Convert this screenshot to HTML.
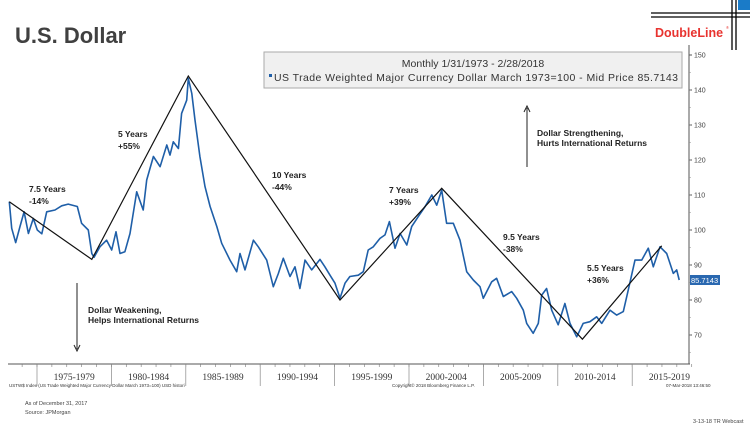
<!DOCTYPE html>
<html><head><meta charset="utf-8"><style>
body{margin:0;background:#fff;}
svg{display:block;font-family:"Liberation Sans",sans-serif;}
.ann{font-size:8.5px;font-weight:bold;fill:#222;}
.tk{font-size:7px;fill:#444;}
</style></head><body>
<svg id="chart" width="750" height="426" viewBox="0 0 750 426" xmlns="http://www.w3.org/2000/svg">
<text x="15" y="43" font-size="22" font-weight="bold" fill="#404040">U.S. Dollar</text>
<g>
<rect x="738" y="0" width="12" height="10" fill="#1a7bc8"/>
<line x1="651" y1="13" x2="750" y2="13" stroke="#000" stroke-width="1.3"/>
<line x1="651" y1="17" x2="750" y2="17" stroke="#000" stroke-width="1.3"/>
<line x1="732" y1="0" x2="732" y2="50" stroke="#000" stroke-width="1.3"/>
<line x1="736" y1="0" x2="736" y2="50" stroke="#000" stroke-width="1.3"/>
<text x="655" y="37" font-size="12.5" font-weight="bold" fill="#e8332f">DoubleLine</text>
<text x="726" y="29" font-size="4" fill="#e8332f">®</text>
</g>
<g>
<rect x="264" y="52" width="418" height="36" fill="#f0f0f0" stroke="#aaa"/>
<text x="473" y="67" font-size="10.5" fill="#333" text-anchor="middle">Monthly 1/31/1973 - 2/28/2018</text>
<rect x="269" y="74" width="3" height="3" fill="#1f5fa8"/>
<text x="274" y="81" font-size="10.5" fill="#333" textLength="404">US Trade Weighted Major Currency Dollar March 1973=100 - Mid Price 85.7143</text>
</g>
<g id="axes"></g>
<g id="marks"></g>
<g>
<text class="ann" x="29" y="192">7.5 Years</text><text class="ann" x="29" y="204">-14%</text>
<text class="ann" x="118" y="137">5 Years</text><text class="ann" x="118" y="149">+55%</text>
<text class="ann" x="272" y="178">10 Years</text><text class="ann" x="272" y="190">-44%</text>
<text class="ann" x="389" y="193">7 Years</text><text class="ann" x="389" y="205">+39%</text>
<text class="ann" x="503" y="240">9.5 Years</text><text class="ann" x="503" y="252">-38%</text>
<text class="ann" x="587" y="271">5.5 Years</text><text class="ann" x="587" y="283">+36%</text>
<text class="ann" x="88" y="313" font-size="6.5">Dollar Weakening,</text>
<text class="ann" x="88" y="323" font-size="6.5">Helps International Returns</text>
<text class="ann" x="537" y="136" font-size="6.5">Dollar Strengthening,</text>
<text class="ann" x="537" y="146" font-size="6.5">Hurts International Returns</text>
<line x1="77" y1="283" x2="77" y2="349" stroke="#222" stroke-width="1"/>
<path d="M74,345 L77,351 L80,345" fill="none" stroke="#222"/>
<line x1="527" y1="167" x2="527" y2="108" stroke="#222" stroke-width="1"/>
<path d="M524,112 L527,106 L530,112" fill="none" stroke="#222"/>
</g>
<text x="9" y="387" font-size="4.5" fill="#333">USTW$ Index (US Trade Weighted Major Currency Dollar March 1973=100) USD histori</text>
<text x="392" y="387" font-size="4.5" fill="#333">Copyright© 2018 Bloomberg Finance L.P.</text>
<text x="666" y="387" font-size="4.5" fill="#333">07-Mar-2018 13:46:50</text>
<text x="25" y="405" font-size="5.5" fill="#444">As of December 31, 2017</text>
<text x="25" y="414" font-size="5.5" fill="#444">Source: JPMorgan</text>
<text x="693" y="423" font-size="5.5" fill="#444">3-13-18 TR Webcast</text>
</svg>
<script>
const years=[1973.14,1973.30,1973.57,1973.86,1974.13,1974.42,1974.75,1975.02,1975.32,1975.65,1976.21,1976.66,1977.10,1977.71,1978.00,1978.45,1978.68,1978.83,1979.23,1979.68,1980.02,1980.31,1980.58,1980.91,1981.25,1981.70,1982.14,1982.37,1982.82,1983.27,1983.72,1983.94,1984.16,1984.50,1984.72,1985.06,1985.17,1985.40,1985.62,1985.95,1986.29,1986.63,1987.08,1987.41,1987.97,1988.42,1988.64,1988.98,1989.54,1989.87,1990.44,1990.88,1991.22,1991.55,1992.00,1992.34,1992.67,1993.01,1993.46,1994.02,1994.35,1994.69,1995.03,1995.36,1995.70,1996.03,1996.59,1996.93,1997.26,1997.60,1998.05,1998.39,1998.68,1999.06,1999.40,1999.85,2000.18,2000.62,2001.08,2001.53,2001.86,2002.20,2002.53,2002.98,2003.43,2003.88,2004.32,2004.77,2004.99,2005.56,2005.89,2006.34,2006.90,2007.24,2007.68,2007.91,2008.35,2008.69,2008.92,2009.25,2009.59,2010.03,2010.48,2010.82,2011.27,2011.71,2012.16,2012.61,2012.95,2013.51,2013.96,2014.40,2014.74,2015.19,2015.64,2016.08,2016.42,2016.87,2017.32,2017.76,2017.99,2018.16];
const values=[108.1,100.5,96.4,101,105.2,99.0,103.3,100,98.9,105.2,105.7,106.9,107.4,106.7,101.9,100,93.3,92.2,95.2,97.1,94.3,99.5,93.3,93.8,99,110.9,105.7,114.3,121,118.1,124.3,121.4,125.2,123.3,133.3,137.1,143.3,139,131.4,121,112.4,106.7,101,96.2,91.4,88.1,93.3,88.6,97.1,95.2,91.4,83.8,87.6,91.9,86.7,89.5,83.3,91.4,88.6,91.6,89.5,87.1,84.8,80.5,84.8,86.7,87.1,88.1,94.3,95.2,97.6,98.6,102.4,94.8,99,95.7,101,103.8,106.7,110,107.1,111.4,101.9,101.9,97.1,88.1,85.7,83.8,80.5,85.2,86.2,81,82.4,80.5,77.1,73.3,70.5,73.3,81.4,83.3,77.1,72.9,79,73.3,69.5,73.3,73.8,75.2,73.3,77.1,75.7,76.7,82.9,91.4,91.4,94.8,89.5,95.2,93.3,87.6,88.6,85.7];
const trendYears=[1973.14,1978.68,1985.17,1995.36,2002.20,2011.65,2016.98];
const trendValues=[108.1,91.6,144,80,111.9,68.8,95.5];
const yTicks=[70,80,90,100,110,120,130,140,150];
const periodLabels=["1975-1979","1980-1984","1985-1989","1990-1994","1995-1999","2000-2004","2005-2009","2010-2014","2015-2019"];
const periodStarts=[1975,1980,1985,1990,1995,2000,2005,2010,2015];
const lastValue=85.7143;

const NS="http://www.w3.org/2000/svg";
const X=y=>37+(y-1975)*14.88;
const Y=v=>55+(150-v)*3.5;
function mk(t,a,p){const e=document.createElementNS(NS,t);for(const k in a)e.setAttribute(k,a[k]);p.appendChild(e);return e;}
const axes=document.getElementById('axes'),marks=document.getElementById('marks');
const xa=mk('line',{x1:8,y1:364,x2:690,y2:364,stroke:'#555','stroke-width':1},axes);


const ya=mk('line',{x1:689,y1:45,x2:689,y2:364,stroke:'#555','stroke-width':1},axes);


for(let yr=1974;yr<=2019;yr++){mk('line',{x1:X(yr),y1:364,x2:X(yr),y2:367,stroke:'#777','stroke-width':0.6},axes);}
periodStarts.forEach((s,i)=>{
 mk('line',{x1:X(s),y1:364,x2:X(s),y2:386,stroke:'#888','stroke-width':0.7},axes);
 const t=mk('text',{x:X(s+2.5),y:380,'font-size':9.5,'text-anchor':'middle',fill:'#333','font-family':'Liberation Serif, serif'},axes);
 t.textContent=periodLabels[i];
 
 
});
yTicks.forEach(v=>{
 mk('line',{x1:689,y1:Y(v),x2:692,y2:Y(v),stroke:'#555'},axes);
 const t=mk('text',{x:694,y:Y(v)+2.5,class:'tk'},axes);
 t.textContent=v;
 
 
});
for(let v=65;v<150;v+=5){mk('line',{x1:689,y1:Y(v),x2:691,y2:Y(v),stroke:'#888','stroke-width':0.5},axes);}
const d=years.map((y,i)=>(i?'L':'M')+X(y).toFixed(1)+','+Y(values[i]).toFixed(1)).join('');
const ln=mk('path',{d:d,fill:'none',stroke:'#1f5fa8','stroke-width':1.6,'stroke-linejoin':'round'},marks);


const td=trendYears.map((y,i)=>(i?'L':'M')+X(y).toFixed(1)+','+Y(trendValues[i]).toFixed(1)).join('');
const tl=mk('path',{d:td,fill:'none',stroke:'#111','stroke-width':1.2},marks);


const g=mk('g',{},marks);


mk('rect',{x:690,y:Y(lastValue)-5,width:30,height:10,fill:'#2a68b0'},g);
const lt=mk('text',{x:691,y:Y(lastValue)+3,'font-size':7.5,fill:'#fff'},g);
lt.textContent=lastValue.toFixed(4);
</script>
</body></html>
